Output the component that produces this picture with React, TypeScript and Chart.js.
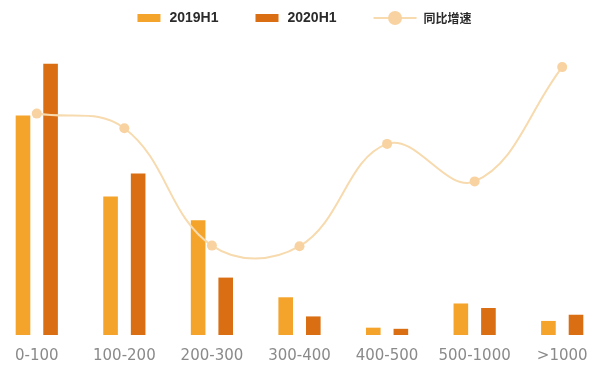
import React, { useEffect, useRef } from "react";
import { Chart, registerables } from "chart.js";

Chart.register(...registerables);

const categories = ["0-100", "100-200", "200-300", "300-400", "400-500", "500-1000", ">1000"];
const series2019 = [39.0, 24.6, 20.4, 6.7, 1.3, 5.6, 2.5];
const series2020 = [48.2, 28.7, 10.2, 3.3, 1.1, 4.8, 3.6];
const growth = [73.8, 68.9, 29.8, 29.6, 63.7, 51.2, 89.3];
const seriesNames = ["2019H1", "2020H1", "同比增速"];

const C2019 = "#F4A42A";
const C2020 = "#D96F12";
const CLINE = "#F7DAAE";
const CPOINT = "#F8D3A1";

const legendPlugin = {
  id: "customLegend",
  afterDraw(chart: any) {
    const ctx = chart.ctx as CanvasRenderingContext2D;
    ctx.save();
    const cy = 18;
    const latinFont = "bold 14px 'Liberation Sans', Arial, sans-serif";
    const cjkFont = "bold 12px 'Noto Sans CJK SC', sans-serif";
    const items = seriesNames.map((name, i) => {
      ctx.font = i === 2 ? cjkFont : latinFont;
      const tw = ctx.measureText(name).width;
      const mw = i === 2 ? 43 : 23;
      const gap = i === 2 ? 7 : 9;
      return { name, tw, mw, gap, w: mw + gap + tw, i };
    });
    const spacing = 37;
    const total = items.reduce((s, it) => s + it.w, 0) + spacing * (items.length - 1);
    let x = chart.width / 2 + 5 - total / 2;
    for (const it of items) {
      if (it.i < 2) {
        ctx.fillStyle = it.i === 0 ? C2019 : C2020;
        ctx.fillRect(x, cy - 4, it.mw, 8);
        ctx.font = latinFont;
      } else {
        ctx.strokeStyle = CLINE;
        ctx.lineWidth = 2;
        ctx.beginPath();
        ctx.moveTo(x, cy);
        ctx.lineTo(x + it.mw, cy);
        ctx.stroke();
        ctx.fillStyle = CPOINT;
        ctx.beginPath();
        ctx.arc(x + it.mw / 2, cy, 7, 0, Math.PI * 2);
        ctx.fill();
        ctx.font = cjkFont;
      }
      ctx.fillStyle = "#2b2b2b";
      ctx.textBaseline = "middle";
      ctx.textAlign = "left";
      ctx.fillText(it.name, x + it.mw + it.gap, cy + 0.5);
      x += it.w + spacing;
    }
    ctx.restore();
  },
};

export default function App() {
  const ref = useRef<HTMLCanvasElement | null>(null);
  useEffect(() => {
    if (!ref.current) return;
    const chart = new Chart(ref.current, {
      type: "bar",
      data: {
        labels: categories,
        datasets: [
          {
            type: "line",
            label: seriesNames[2],
            data: growth,
            yAxisID: "y1",
            borderColor: CLINE,
            borderWidth: 2,
            pointRadius: 5,
            pointBackgroundColor: CPOINT,
            pointBorderWidth: 0,
            tension: 0.4,
            fill: false,
            clip: false,
            order: 0,
          } as any,
          {
            label: seriesNames[0],
            data: series2019,
            backgroundColor: C2019,
            categoryPercentage: 0.63,
            barPercentage: 0.53,
            order: 1,
          },
          {
            label: seriesNames[1],
            data: series2020,
            backgroundColor: C2020,
            categoryPercentage: 0.63,
            barPercentage: 0.53,
            order: 1,
          },
        ],
      },
      options: {
        animation: false,
        responsive: true,
        maintainAspectRatio: false,
        layout: { autoPadding: false, padding: { top: 35, bottom: -6, left: 0, right: 0 } },
        plugins: { legend: { display: false }, tooltip: { enabled: false } },
        scales: {
          x: {
            grid: { display: false, drawTicks: false },
            border: { display: false },
            afterFit: (scale: any) => {
              scale.paddingLeft = 0;
              scale.paddingRight = 0;
            },
            ticks: {
              color: "#8a8a8a",
              padding: 12,
              font: { family: "'DejaVu Sans', sans-serif", size: 15 },
              maxRotation: 0,
              autoSkip: false,
            },
          },
          y: { display: false, min: 0, max: 53.3 },
          y1: { display: false, min: 0, max: 100 },
        },
      },
      plugins: [legendPlugin],
    });
    return () => chart.destroy();
  }, []);
  return (
    <div style={{ position: "fixed", left: 0, top: 0, width: 600, height: 371, overflow: "hidden", background: "#fff" }}>
      <div style={{ position: "absolute", left: -7, top: 0, width: 613, height: 371 }}>
        <canvas ref={ref} />
      </div>
    </div>
  );
}
